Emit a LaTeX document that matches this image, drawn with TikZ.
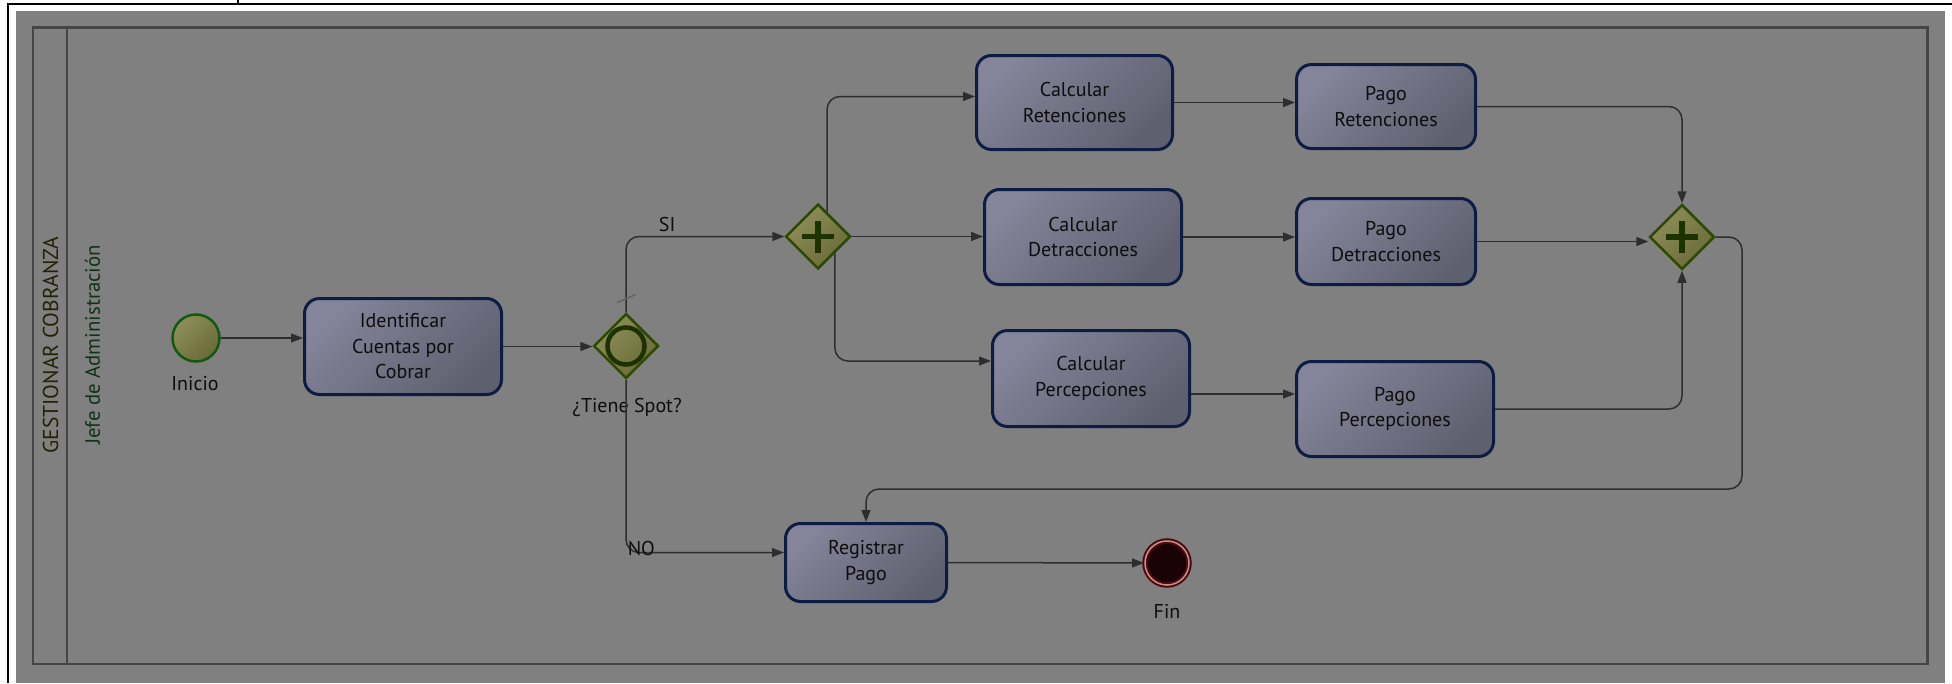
\documentclass[tikz,border=0pt]{standalone}
\usepackage{fontspec}
\setmainfont{PT Sans}
\usetikzlibrary{shapes.geometric, arrows.meta}
\definecolor{fondogris}{HTML}{808080}
\definecolor{lineagris}{HTML}{2E2E2E}
\definecolor{bordecarril}{HTML}{454545}
\definecolor{azulborde}{HTML}{0C1C42}
\definecolor{tareaclaro}{HTML}{84849A}
\definecolor{tareaoscuro}{HTML}{5F606F}
\definecolor{olivoclaro}{HTML}{8E8E5A}
\definecolor{olivooscuro}{HTML}{6A6A38}
\definecolor{verdeborde}{HTML}{2E4A02}
\definecolor{verdesigno}{HTML}{1C3300}
\definecolor{verdeinicio}{HTML}{13590F}
\definecolor{rojofin}{HTML}{4E0A0A}
\definecolor{rosafin}{HTML}{C49090}
\definecolor{negrofin}{HTML}{1A0306}
\definecolor{textoproceso}{HTML}{222205}
\definecolor{textorol}{HTML}{0E3317}
\tikzstyle{marco}=[draw=black, line width=2pt]
\tikzstyle{carril}=[draw=bordecarril, line width=2.5pt]
\tikzstyle{tarea}=[rectangle, rounded corners=15pt, draw=azulborde, line width=3pt, top color=tareaclaro, bottom color=tareaoscuro, shading angle=45, align=center, inner sep=0pt, font=\fontsize{20}{25.5}\selectfont, text=black!95]
\tikzstyle{compuerta}=[diamond, draw=verdeborde, line width=2.5pt, top color=olivoclaro, bottom color=olivooscuro, shading angle=45, minimum width=65pt, minimum height=65pt, inner sep=0pt]
\tikzstyle{paralela}=[compuerta, path picture={\draw[line width=5.5pt, draw=verdesigno] ([xshift=-16pt]path picture bounding box.center) -- ([xshift=16pt]path picture bounding box.center) ([yshift=-16pt]path picture bounding box.center) -- ([yshift=16pt]path picture bounding box.center);}]
\tikzstyle{evento}=[compuerta, path picture={\draw[line width=4.5pt, draw=verdesigno] (path picture bounding box.center) circle[radius=18.5pt];}]
\tikzstyle{inicio}=[circle, minimum size=47pt, inner sep=0pt, draw=verdeinicio, line width=2.5pt, top color=olivoclaro, bottom color=olivooscuro, shading angle=45]
\tikzstyle{fin}=[circle, minimum size=44pt, inner sep=0pt, draw=rojofin, line width=2pt, double=rosafin, double distance=1.5pt, fill=negrofin]
\tikzstyle{etiqueta}=[font=\fontsize{20}{24}\selectfont, text=black!95, inner sep=1pt]
\tikzstyle{flujo}=[draw=lineagris, line width=1.5pt, rounded corners=13pt, -{Triangle[length=12pt, width=9pt]}]
\tikzstyle{marca}=[draw=black!62, line width=1.5pt]

\begin{document}
\begin{tikzpicture}[x=1pt, y=-1pt]
	\useasboundingbox (0,0) rectangle (1952,683);
	\fill[white] (0,0) rectangle (1952,683);
	\fill[fondogris] (16,10.5) rectangle (1945,683);
	\draw[marco] (8,683) -- (8,4) -- (1952,4);
	\draw[marco] (238,0) -- (238,4);
	\draw[carril] (33,27.5) rectangle (1927.5,664);
	\draw[carril] (67,27.5) -- (67,664);
	\node[rotate=90, text=textoproceso, font=\fontsize{21.5}{24}\selectfont] (proceso) at (50.5,345) {GESTIONAR COBRANZA};
	\node[rotate=90, text=textorol, font=\fontsize{20.8}{24}\selectfont] (rol) at (92.5,345) {Jefe de Administración};

	\foreach \nombre/\x/\y/\ancho/\alto/\texto in {
		ident/403/346.5/197/96/{Identificar\\Cuentas por\\Cobrar},
		calcret/1074.5/102.5/196/94/{Calcular\\Retenciones},
		pagoret/1386/106.5/179/84/{Pago\\Retenciones},
		calcdet/1083/237/197/95/{Calcular\\Detracciones},
		pagodet/1386/241.5/179/86/{Pago\\Detracciones},
		calcperc/1091/378.5/197/96/{Calcular\\Percepciones},
		pagoperc/1395/409/197/95/{Pago\\Percepciones},
		registrar/866/562.5/161/78/{Registrar\\Pago}}{
		\node[tarea, minimum width=\ancho pt, minimum height=\alto pt] (\nombre) at (\x,\y) {\texto};
	}

	\node[inicio] (inicio) at (196,338) {};
	\node[fin] (fin) at (1167,563) {};
	\node[evento] (spot) at (626,346) {};
	\node[paralela] (division) at (818,236.5) {};
	\node[paralela] (union) at (1682,237) {};
	\node[etiqueta] (linicio) at (195,384) {Inicio};
	\node[etiqueta] (lspot) at (627,407) {¿Tiene Spot?};
	\node[etiqueta] (lfin) at (1167,611) {Fin};
	\coordinate (retorno) at (1742,489);

	\draw[flujo] (inicio.east) -- (inicio.east -| ident.west);
	\draw[flujo] (ident.east) -- (ident.east -| spot.west);
	\draw[flujo] (spot.north) |- node[etiqueta, pos=0.63, above=3pt] (si) {SI} (division.west);
	\draw[marca] (spot.north) ++(-9,-9.5) -- ++(18,-8);
	\draw[flujo] (spot.south) |- node[etiqueta, pos=0.5, anchor=west, yshift=4pt] (no) {NO} ([yshift=10pt]registrar.west);
	\draw[flujo] ([xshift=9pt, yshift=-9pt]division.north) |- ([yshift=6pt]calcret.west);
	\draw[flujo] (division.east) -- (division.east -| calcdet.west);
	\draw[flujo] (division.south east) |- ([yshift=17.5pt]calcperc.west);
	\draw[flujo] (calcret.east) -- (calcret.east -| pagoret.west);
	\draw[flujo] (calcdet.east) -- (calcdet.east -| pagodet.west);
	\draw[flujo] ([yshift=-15.5pt]calcperc.east) -- ([yshift=-15.5pt]calcperc.east -| pagoperc.west);
	\draw[flujo] (pagoret.east) -| (union.north);
	\draw[flujo] (pagodet.east) -- (pagodet.east -| union.west);
	\draw[flujo] (pagoperc.east) -| (union.south);
	\draw[flujo] (union.east) -| (retorno) -| (registrar.north);
	\draw[flujo] (registrar.east) -- (fin.west);
\end{tikzpicture}
\end{document}
